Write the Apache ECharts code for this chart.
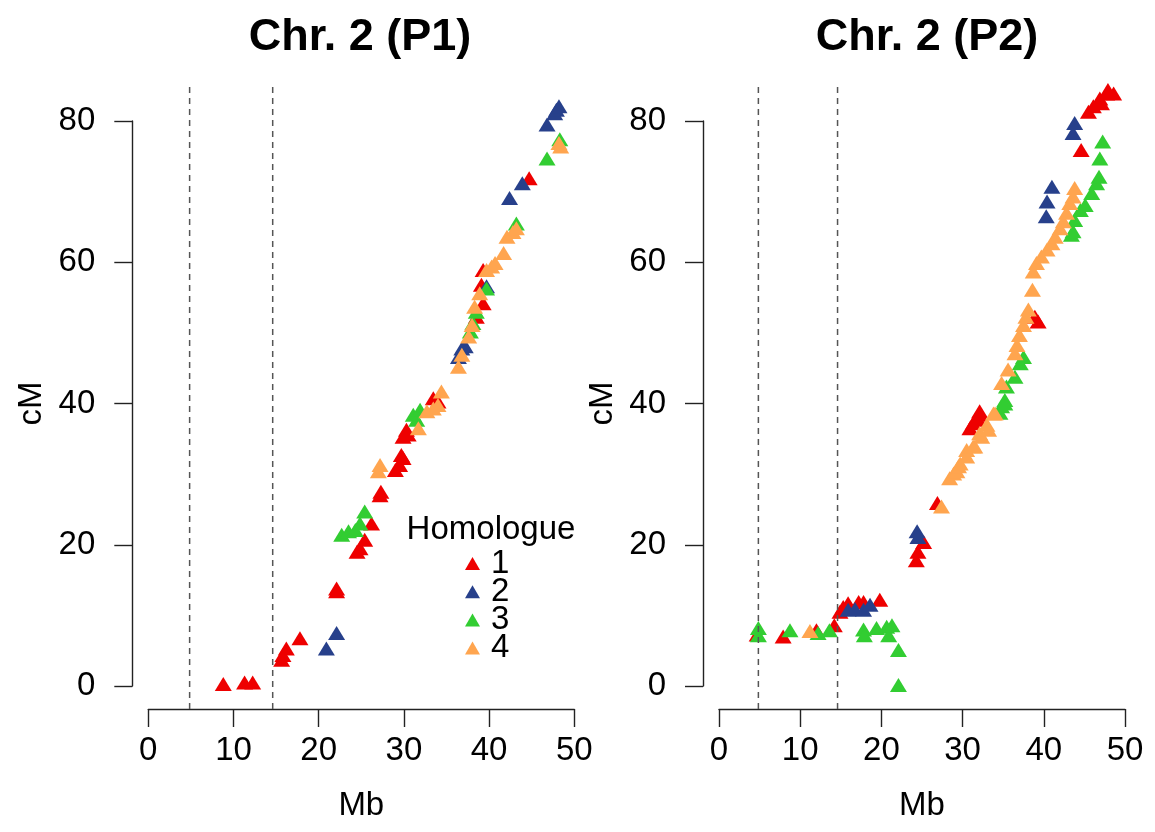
<!DOCTYPE html>
<html><head><meta charset="utf-8">
<script src="https://cdn.jsdelivr.net/npm/echarts@6/dist/echarts.min.js"></script>
<style>html,body{margin:0;padding:0;background:#fff}#c{width:1155px;height:832px}</style>
</head><body><div id="c"></div>
<script>
// ---- data: [Mb, cM] per homologue ----
const p1_h1 = [[8.8,0.3],[11.3,0.5],[12.25,0.5],[15.65,3.7],[15.8,4.4],[16.2,5.3],[17.8,6.75],[22.1,13.4],[22.1,13.8],[24.5,19.0],[24.85,19.5],[25.4,20.7],[26.2,23.0],[27.2,27.0],[27.3,27.5],[29.0,30.6],[29.5,31.3],[29.7,32.7],[29.9,32.3],[29.9,35.3],[30.3,36.3],[30.5,35.6],[33.45,40.75],[34.0,40.3],[38.5,52.3],[39.3,54.2],[39.1,56.8],[39.3,58.9],[44.7,71.9]];
const p1_h2 = [[20.9,5.3],[22.1,7.5],[36.4,46.6],[36.8,47.8],[37.2,48.1],[39.7,56.6],[42.4,69.1],[43.9,71.2],[46.8,79.5],[47.7,81.1],[47.9,81.6],[48.2,82.1]];
const p1_h3 = [[22.7,21.4],[23.5,21.9],[24.3,22.1],[24.85,23.0],[25.4,24.7],[31.1,38.4],[31.5,37.7],[31.9,39.1],[37.8,50.2],[38.1,51.4],[38.5,53.0],[39.7,56.3],[43.2,65.5],[46.8,74.7],[48.3,77.4]];
const p1_h4 = [[27.0,30.4],[27.2,31.3],[31.7,36.5],[32.7,38.9],[33.45,39.3],[34.0,39.8],[34.4,41.7],[36.4,45.2],[36.8,46.9],[37.6,49.5],[38.0,51.1],[38.3,53.7],[38.9,55.6],[39.7,58.9],[40.3,59.4],[40.7,59.9],[41.7,61.3],[42.1,63.6],[42.8,64.3],[43.2,64.8],[48.2,76.9],[48.4,76.4]];

const p2_h1 = [[4.7,7.3],[7.9,7.0],[12.0,7.9],[14.2,8.6],[14.9,10.5],[15.3,11.2],[15.9,11.7],[17.2,11.9],[17.8,11.9],[19.8,12.2],[24.3,17.8],[24.5,19.0],[25.2,20.4],[26.9,25.9],[30.9,36.5],[31.3,37.2],[31.7,37.7],[31.75,38.1],[32.1,38.4],[32.1,38.9],[38.9,52.3],[39.3,51.6],[44.6,75.9],[45.5,81.3],[46.1,82.1],[46.9,83.2],[47.1,82.5],[47.75,83.9],[47.9,84.4],[48.6,83.9]];
const p2_h2 = [[15.9,10.8],[16.75,10.9],[17.8,10.8],[18.6,11.5],[24.4,21.9],[24.5,21.1],[40.3,66.5],[40.4,68.6],[41.0,70.7],[43.6,78.3],[43.8,79.7]];
const p2_h3 = [[4.85,8.2],[4.85,7.2],[8.74,7.9],[12.2,7.5],[13.6,7.9],[17.8,8.0],[17.9,7.2],[19.4,8.2],[20.65,8.4],[20.9,7.2],[21.3,8.6],[22.1,5.1],[22.1,0.15],[34.6,38.7],[34.8,39.6],[35.2,40.0],[35.2,40.5],[35.4,42.4],[36.45,43.8],[37.1,45.7],[37.5,46.6],[43.4,63.9],[43.6,64.4],[43.8,66.0],[44.5,67.4],[45.1,68.1],[45.9,69.8],[46.5,71.2],[46.8,72.1],[46.9,74.7],[47.25,77.1]];
const p2_h4 = [[11.2,7.8],[27.4,25.4],[28.4,29.4],[28.9,30.1],[29.3,30.4],[29.5,31.1],[29.7,31.5],[30.5,32.5],[30.5,33.4],[31.3,33.9],[31.5,33.9],[32.1,35.8],[32.35,35.3],[33.0,37.0],[33.2,36.3],[33.8,38.6],[34.0,38.6],[34.8,42.9],[35.6,44.8],[36.45,47.1],[36.7,48.3],[37.0,49.7],[37.5,51.1],[37.8,52.3],[38.1,53.3],[38.6,56.1],[38.7,58.7],[39.1,59.9],[39.7,60.8],[40.4,61.8],[41.0,62.7],[41.4,63.6],[42.0,64.8],[42.4,65.8],[42.8,67.0],[43.2,68.4],[43.6,69.3],[43.8,70.5]];

const homologues = ['1','2','3','4'];
const legendTitle = 'Homologue';
const panelTitles = ['Chr. 2 (P1)', 'Chr. 2 (P2)'];
const dashedMb = [4.85, 14.6];
const yExtent = [-3.26, 84.8];
const xTicks = {min: 0, max: 50, interval: 10};
const yTicks = {min: 0, max: 80, interval: 20};

const colors = ['#EE0000', '#27408B', '#32CD32', '#FFA54F'];
const FONT = 'Liberation Sans, Arial, Helvetica, sans-serif';
const panels = [[p1_h1,p1_h2,p1_h3,p1_h4],[p2_h1,p2_h2,p2_h3,p2_h4]];

const grids = [
  {left: 148.3, top: 121, width: 426, height: 565},
  {left: 719, top: 121, width: 406, height: 565}
];
const titleCenters = [355, 922];

const axisCol = '#222';
const LBL = 33;
function xAx(i){
  return {gridIndex:i, type:'value', min:xTicks.min, max:xTicks.max, interval:xTicks.interval,
    offset:23, position:'bottom',
    axisLine:{onZero:false, lineStyle:{color:axisCol, width:1.4}},
    axisTick:{length:18, lineStyle:{color:axisCol, width:1.4}},
    axisLabel:{fontSize:LBL, color:'#000', fontFamily:FONT, margin:25},
    splitLine:{show:false},
    name:'Mb', nameLocation:'middle', nameGap:80,
    nameTextStyle:{fontSize:LBL, color:'#000', fontFamily:FONT}};
}
function yAx(i){
  return {gridIndex:i, type:'value', min:yTicks.min, max:yTicks.max, interval:yTicks.interval,
    offset:16, position:'left',
    axisLine:{onZero:false, lineStyle:{color:axisCol, width:1.4}},
    axisTick:{length:18, lineStyle:{color:axisCol, width:1.4}},
    axisLabel:{fontSize:LBL, color:'#000', fontFamily:FONT, margin:37},
    splitLine:{show:false},
    name:'cM', nameLocation:'middle', nameGap:84, nameRotate:90,
    nameTextStyle:{fontSize:LBL, color:'#000', fontFamily:FONT}};
}

const series = [];
panels.forEach((pd, pi) => {
  dashedMb.forEach(v => {
    series.push({type:'line', xAxisIndex:pi, yAxisIndex:pi, data:[[v, yExtent[0]],[v, yExtent[1]]],
      symbol:'none', clip:false, silent:true,
      lineStyle:{color:'#555', width:1.5, type:[6,5]}});
  });
  pd.forEach((d, hi) => {
    series.push({type:'scatter', name:homologues[hi], xAxisIndex:pi, yAxisIndex:pi, data:d,
      symbol:'triangle', symbolSize:[17,14], clip:false,
      itemStyle:{color:colors[hi], opacity:1}});
  });
});

const legends = homologues.map((h, i) => ({
  data:[h], orient:'vertical', left:465, top:547 + i*28.2, itemWidth:15, itemHeight:13,
  icon:'triangle', selectedMode:false, padding:0,
  textStyle:{fontSize:LBL, color:'#000', fontFamily:FONT, padding:[0,0,0,6]}
}));

const chart = echarts.init(document.getElementById('c'), null, {renderer:'canvas'});
chart.setOption({
  animation:false,
  backgroundColor:'#fff',
  title: [
    {text:panelTitles[0], left:titleCenters[0], top:10, textAlign:'center',
      textStyle:{fontSize:45, fontWeight:'bold', color:'#000', fontFamily:FONT}},
    {text:panelTitles[1], left:titleCenters[1], top:10, textAlign:'center',
      textStyle:{fontSize:45, fontWeight:'bold', color:'#000', fontFamily:FONT}},
    {text:legendTitle, left:486, top:508, textAlign:'center',
      textStyle:{fontSize:LBL, fontWeight:'normal', color:'#000', fontFamily:FONT}}
  ],
  legend: legends,
  grid: grids,
  xAxis: [xAx(0), xAx(1)],
  yAxis: [yAx(0), yAx(1)],
  series: series
});
</script></body></html>
